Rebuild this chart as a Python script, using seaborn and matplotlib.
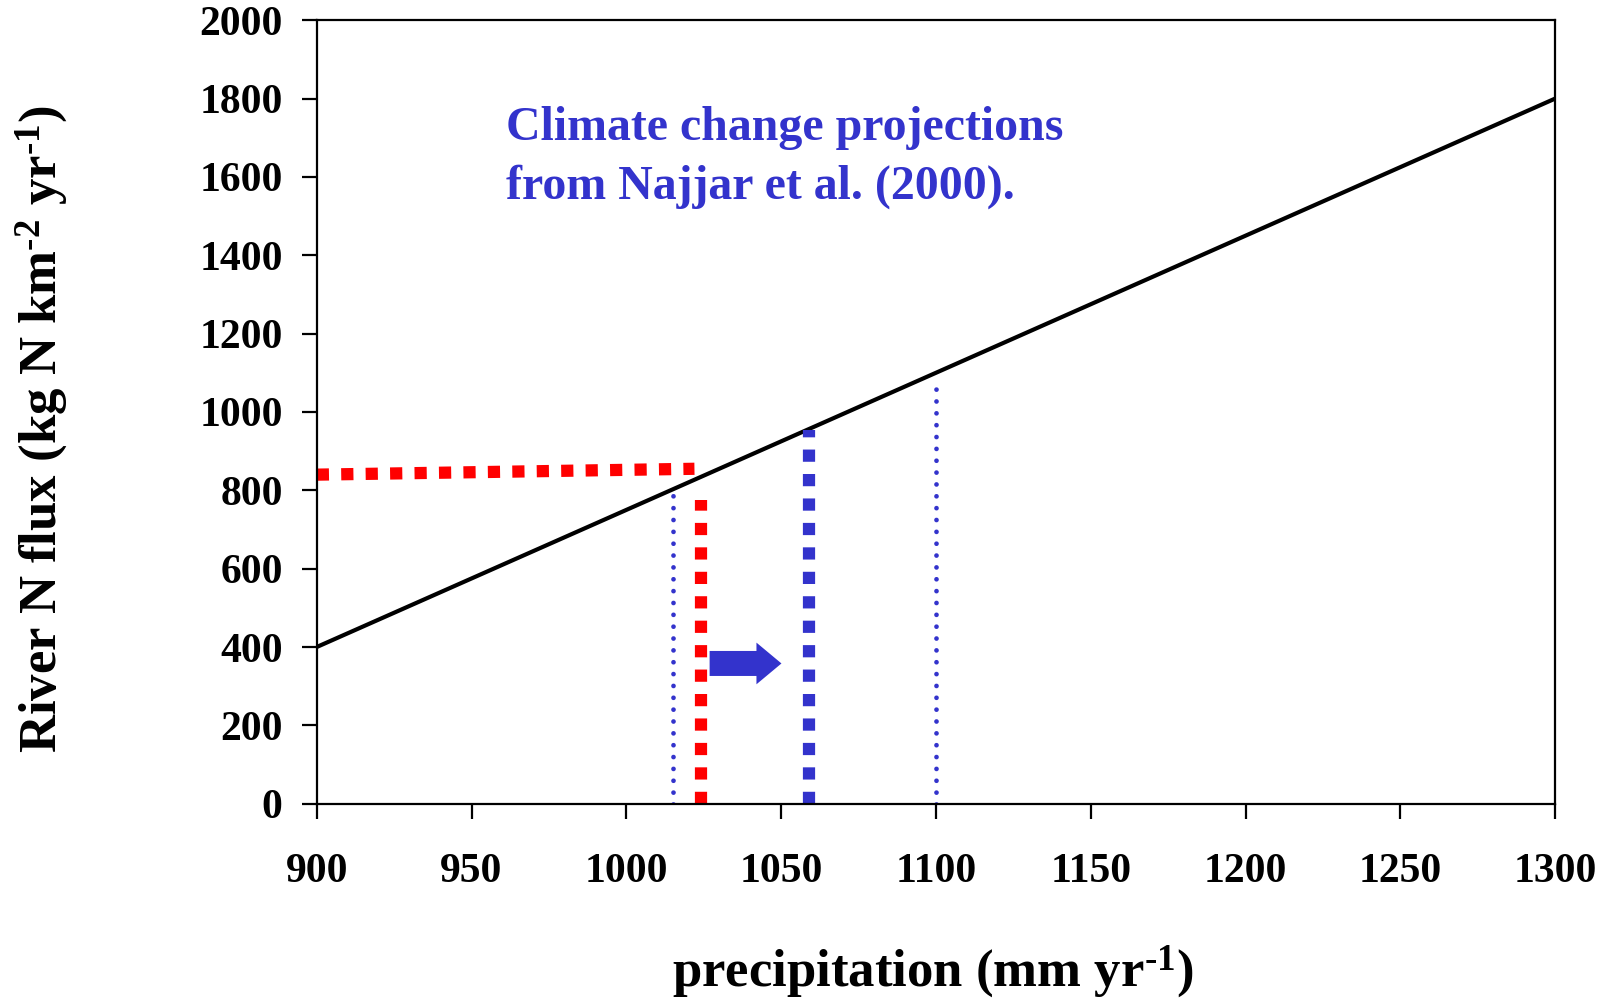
import matplotlib
matplotlib.use("Agg")
import matplotlib.pyplot as plt
import seaborn as sns
from matplotlib.patches import FancyArrowPatch

# ---- data ----
precip_line = [900, 1300]
flux_line = [400, 1800]

red_h_x = [900, 1022]
red_h_y = [840, 855]

red_v_x = [1024, 1024]
red_v_y = [0, 775]

blue_thick_x = [1059, 1059]
blue_thick_y = [0, 955]

blue_low_x = [1015, 1015]
blue_low_y = [0, 795]

blue_high_x = [1100, 1100]
blue_high_y = [0, 1070]

arrow_x = [1026, 1051]
arrow_y = [358, 358]

x_ticks = [900, 950, 1000, 1050, 1100, 1150, 1200, 1250, 1300]
y_ticks = [0, 200, 400, 600, 800, 1000, 1200, 1400, 1600, 1800, 2000]

annotation = "Climate change projections\nfrom Najjar et al. (2000)."
xlabel = r"precipitation (mm yr$^{\text{-}1}$)"
ylabel = r"River N flux (kg N km$^{\text{-}2}$ yr$^{\text{-}1}$)"

BLUE = "#3333CC"
RED = "#FF0000"

sns.set_theme(style="white")
plt.rcParams["font.family"] = ["Liberation Serif", "DejaVu Serif"]
plt.rcParams["font.weight"] = "bold"
plt.rcParams["mathtext.fontset"] = "custom"
plt.rcParams["mathtext.rm"] = "Liberation Serif:bold"
plt.rcParams["mathtext.it"] = "Liberation Serif:bold"
plt.rcParams["mathtext.bf"] = "Liberation Serif:bold"
plt.rcParams["mathtext.default"] = "rm"

fig = plt.figure(figsize=(16.12, 9.98), dpi=100)
ax = fig.add_axes([0.1965, 0.1947, 0.7682, 0.785])

sns.lineplot(x=precip_line, y=flux_line, ax=ax, color="black", linewidth=3.0)

def dotted(xs, ys, color, lw, dashes, cap):
    sns.lineplot(x=xs, y=ys, ax=ax, color=color, linewidth=lw,
                 dashes=False, estimator=None, sort=False)
    line = ax.lines[-1]
    line.set_dashes(dashes)
    line.set_dash_capstyle(cap)

dotted(red_h_x, red_h_y, RED, 8.8, (1.0, 1.0), "butt")
dotted(red_v_x, red_v_y, RED, 8.8, (1.0, 1.0), "butt")
dotted(blue_thick_x, blue_thick_y, BLUE, 8.8, (1.0, 1.0), "butt")
dotted(blue_low_x, blue_low_y, BLUE, 3.4, (0.01, 2.5), "round")
dotted(blue_high_x, blue_high_y, BLUE, 3.4, (0.01, 2.5), "round")

arr = FancyArrowPatch((arrow_x[0], arrow_y[0]), (arrow_x[1], arrow_y[1]),
                      arrowstyle="simple,head_length=0.9,head_width=1.5,tail_width=0.9",
                      mutation_scale=20, color=BLUE, linewidth=0)
ax.add_patch(arr)

ax.set_xlim(900, 1300)
ax.set_ylim(0, 2000)
ax.set_xticks(x_ticks)
ax.set_yticks(y_ticks)
ax.set_xticklabels([str(v) for v in x_ticks])
ax.set_yticklabels([str(v) for v in y_ticks])

for s in ax.spines.values():
    s.set_visible(True)
    s.set_color("black")
    s.set_linewidth(1.6)

ax.tick_params(axis="both", which="major", direction="out", length=10.5, width=1.6,
               color="black", labelsize=30, labelcolor="black")
ax.tick_params(axis="x", pad=25)
ax.tick_params(axis="y", pad=14)
ax.tick_params(axis="both", bottom=True, left=True, top=False, right=False)
for lab in ax.get_xticklabels() + ax.get_yticklabels():
    lab.set_fontweight("bold")

ax.set_xlabel(xlabel, fontsize=38, fontweight="bold", color="black")
ax.set_ylabel(ylabel, fontsize=38, fontweight="bold", color="black")
ax.xaxis.set_label_coords(0.4975, -0.233)
ax.yaxis.set_label_coords(-0.222, 0.478)
ax.xaxis.label.set_va("baseline")
ax.yaxis.label.set_va("center")

fig.text(506 / 1612, 1 - 106 / 998, annotation, ha="left", va="top",
         fontsize=34.5, fontweight="bold", color=BLUE, linespacing=1.4)

ax.set_facecolor("white")
fig.patch.set_facecolor("white")
fig.savefig("out.png", dpi=100, facecolor="white")
